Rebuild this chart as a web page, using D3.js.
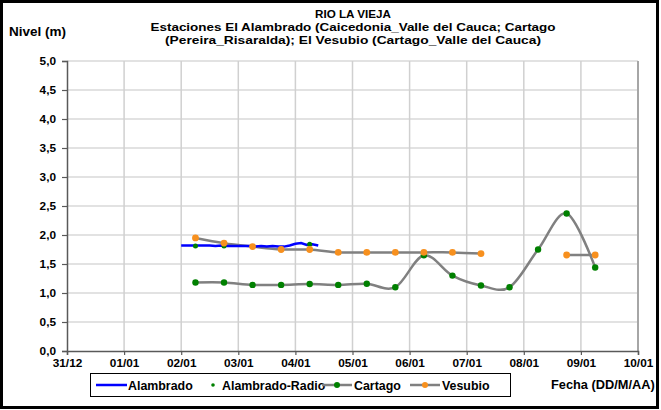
<!DOCTYPE html>
<html><head><meta charset="utf-8">
<script src="https://cdn.jsdelivr.net/npm/d3@7"></script>
<style>
body{margin:0;background:#fff;}
svg text{font-family:Arial,"Liberation Sans",sans-serif;font-weight:bold;fill:#000;}
</style></head>
<body><svg id="c" width="661" height="410"></svg>
<script>
// ---- data ----
const xTickLabels = ["31/12","01/01","02/01","03/01","04/01","05/01","06/01","07/01","08/01","09/01","10/01"];
const yTicks = [0,0.5,1,1.5,2,2.5,3,3.5,4,4.5,5];
// sample positions (in axis-tick units)
const samplePos = [2.25,2.75,3.25,3.75,4.25,4.75,5.25,5.75,6.25,6.75,7.25,7.75,8.25,8.75,9.25];
const cartago = [1.18,1.18,1.14,1.14,1.155,1.14,1.16,1.10,1.65,1.30,1.13,1.10,1.75,2.37,1.44];
const vesubio = [1.95,1.86,1.80,1.75,1.75,1.70,1.70,1.70,1.70,1.70,1.68,null,null,1.655,1.655];
const alambradoPos = [2.0,2.1,2.2,2.3,2.4,2.5,2.6,2.7,2.8,2.9,3.0,3.1,3.2,3.3,3.4,3.5,3.6,3.7,3.8,3.9,4.0,4.1,4.2,4.3,4.4];
const alambrado = [1.82,1.82,1.82,1.82,1.82,1.82,1.81,1.82,1.81,1.81,1.81,1.81,1.81,1.80,1.81,1.80,1.81,1.80,1.80,1.82,1.85,1.86,1.83,1.84,1.82];
const radioPos = [2.25,2.75,4.25];
const radio = [1.81,1.81,1.84];
const titleLines = ["RIO LA VIEJA","Estaciones El Alambrado (Caicedonia_Valle del Cauca; Cartago","(Pereira_Risaralda);  El Vesubio (Cartago_Valle del Cauca)"];

const svg = d3.select("#c");
const L=67,R=638,T=61,B=351;
const x = d3.scaleLinear().domain([0,10]).range([L,R]);
const y = d3.scaleLinear().domain([0,5]).range([B,T]);

// outer frame
svg.append("rect").attr("x",1.5).attr("y",1.5).attr("width",656).attr("height",406)
  .attr("fill","#fff").attr("stroke","#000").attr("stroke-width",3);

// grid
const g = svg.append("g");
g.selectAll(".hg").data(yTicks.slice(1)).join("line")
  .attr("x1",L).attr("x2",R).attr("y1",d=>y(d)).attr("y2",d=>y(d))
  .attr("stroke","#d9d9d9").attr("stroke-width",1.5);
g.selectAll(".vg").data(d3.range(1,11)).join("line")
  .attr("x1",d=>x(d)).attr("x2",d=>x(d)).attr("y1",T).attr("y2",B)
  .attr("stroke","#d0d0d0").attr("stroke-width",1.5);
g.append("line").attr("x1",R).attr("x2",R).attr("y1",T).attr("y2",B).attr("stroke","#a6a6a6").attr("stroke-width",2);

// axes
const yAxis = d3.axisLeft(y).tickValues(yTicks).tickSize(5).tickPadding(6)
  .tickFormat(d=>d3.format(".1f")(d).replace(".",","));
const ya = svg.append("g").attr("transform",`translate(${L},0)`).call(yAxis);
const xAxis = d3.axisBottom(x).tickValues(d3.range(0,11)).tickSize(4).tickPadding(4)
  .tickFormat(i=>xTickLabels[i]);
const xa = svg.append("g").attr("transform",`translate(0,${B})`).call(xAxis);
[ya,xa].forEach(a=>{
  a.select(".domain").attr("stroke","#595959").attr("stroke-width",1.5);
  a.selectAll(".tick line").attr("stroke","#595959").attr("stroke-width",1.2);
  a.selectAll("text").attr("font-size",11.8).attr("font-family","Arial,'Liberation Sans',sans-serif").attr("font-weight","bold").attr("fill","#000");
});

// series
const curve = d3.curveCardinal.tension(0);
const lineFn = d3.line().defined(d=>d[1]!=null).x(d=>x(d[0])).y(d=>y(d[1])).curve(curve);
const cartPts = samplePos.map((p,i)=>[p,cartago[i]]);
const vesPts = samplePos.map((p,i)=>[p,vesubio[i]]);
const alaPts = alambradoPos.map((p,i)=>[p,alambrado[i]]);
const radPts = radioPos.map((p,i)=>[p,radio[i]]);

svg.append("path").attr("d",lineFn(cartPts)).attr("fill","none").attr("stroke","#808080").attr("stroke-width",2.5);
svg.append("path").attr("d",lineFn(vesPts)).attr("fill","none").attr("stroke","#808080").attr("stroke-width",2.5);
svg.append("path").attr("d",d3.line().x(d=>x(d[0])).y(d=>y(d[1]))(alaPts))
  .attr("fill","none").attr("stroke","#0000ff").attr("stroke-width",2.5);
svg.selectAll(".rad").data(radPts).join("circle").attr("cx",d=>x(d[0])).attr("cy",d=>y(d[1])).attr("r",2.5).attr("fill","#008000");
svg.selectAll(".cm").data(cartPts).join("circle").attr("cx",d=>x(d[0])).attr("cy",d=>y(d[1])).attr("r",3.2).attr("fill","#008000");
svg.selectAll(".vm").data(vesPts.filter(d=>d[1]!=null)).join("circle").attr("cx",d=>x(d[0])).attr("cy",d=>y(d[1])).attr("r",3.4).attr("fill","#f7901e");

// titles
const tw=[76,405,376];
svg.selectAll(".tt").data(titleLines).join("text")
  .attr("x",353).attr("y",(d,i)=>17.5+i*13).attr("text-anchor","middle").attr("font-size",11.5)
  .each(function(d,i){ d3.select(this).attr("textLength",tw[i]).attr("lengthAdjust","spacingAndGlyphs"); })
  .text(d=>d);
svg.append("text").attr("x",9).attr("y",36).attr("font-size",13.5).text("Nivel (m)");
svg.append("text").attr("x",551).attr("y",389).attr("font-size",12.8).text("Fecha (DD/M/AA)");

// legend
const lg = svg.append("g");
lg.append("rect").attr("x",90.5).attr("y",373.5).attr("width",420).attr("height",23).attr("fill","#fff").attr("stroke","#000").attr("stroke-width",1);
const ly = 385;
const items = [
  {name:"Alambrado", x0:96, type:"line", color:"#0000ff"},
  {name:"Alambrado-Radio", x0:199, type:"dot"},
  {name:"Cartago", x0:322, type:"lm", mc:"#008000"},
  {name:"Vesubio", x0:410, type:"lm", mc:"#f7901e"}
];
items.forEach(it=>{
  if(it.type==="line"){
    lg.append("line").attr("x1",it.x0).attr("x2",it.x0+31).attr("y1",ly).attr("y2",ly).attr("stroke",it.color).attr("stroke-width",2.5);
  } else if(it.type==="dot"){
    lg.append("circle").attr("cx",it.x0+14).attr("cy",ly).attr("r",1.8).attr("fill","#008000");
  } else {
    lg.append("line").attr("x1",it.x0).attr("x2",it.x0+30).attr("y1",ly).attr("y2",ly).attr("stroke","#808080").attr("stroke-width",2.5);
    lg.append("circle").attr("cx",it.x0+15).attr("cy",ly).attr("r",3).attr("fill",it.mc);
  }
  lg.append("text").attr("x",it.x0+(it.type==="dot"?23:32)).attr("y",ly+4.5).attr("font-size",12.4).text(it.name);
});
</script></body></html>
